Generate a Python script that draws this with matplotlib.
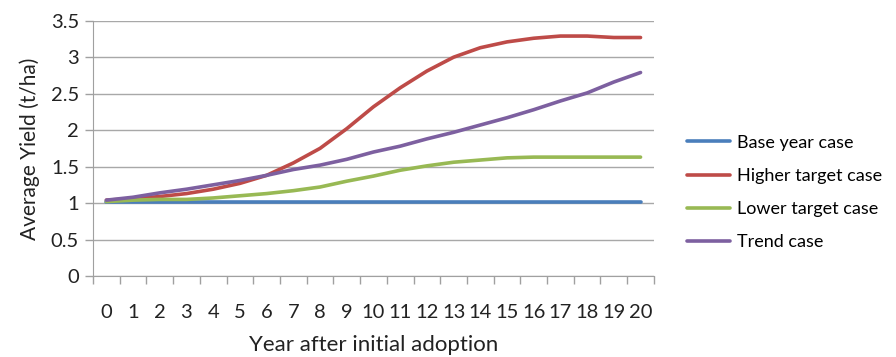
import numpy as np
import matplotlib.pyplot as plt

plt.rcParams['font.family'] = ['Lato', 'DejaVu Sans']

# years after adoption
years = list(range(21))

# yield series (t/ha)
base_case = [1.02] * 21
higher_case = [1.04, 1.06, 1.09, 1.13, 1.19, 1.27, 1.38, 1.55, 1.75, 2.02, 2.32,
               2.58, 2.81, 3.00, 3.13, 3.21, 3.26, 3.29, 3.29, 3.27, 3.27]
lower_case = [1.02, 1.04, 1.05, 1.05, 1.07, 1.10, 1.13, 1.17, 1.22, 1.30, 1.37,
              1.45, 1.51, 1.56, 1.59, 1.62, 1.63, 1.63, 1.63, 1.63, 1.63]
trend_case = [1.04, 1.08, 1.14, 1.19, 1.25, 1.31, 1.38, 1.46, 1.52, 1.60, 1.70,
              1.78, 1.88, 1.97, 2.07, 2.17, 2.28, 2.40, 2.51, 2.66, 2.79]

labels = ['Base year case', 'Higher target case', 'Lower target case', 'Trend case']
colors = ['#4A7EBB', '#BE4B48', '#98B954', '#7D60A0']

fig = plt.figure(figsize=(8.96, 3.57), dpi=100)
ax = fig.add_axes([0.1038, 0.2269, 0.626, 0.715])

for series, lab, col in zip([base_case, higher_case, lower_case, trend_case], labels, colors):
    ax.plot(years, series, color=col, lw=2.6, label=lab, solid_capstyle='round')

ax.set_xlim(-0.5, 20.5)
ax.set_ylim(0, 3.5)
ax.set_yticks(np.arange(0, 3.51, 0.5))
ax.set_yticklabels(['0', '0.5', '1', '1.5', '2', '2.5', '3', '3.5'])
ax.set_xticks(years)
ax.set_xticks(np.arange(-0.5, 20.6, 1), minor=True)
ax.tick_params(axis='x', which='major', length=0, pad=20, labelsize=14.5, colors='#222222')
ax.tick_params(axis='x', which='minor', length=6, color='#A0A0A0', width=1)
ax.tick_params(axis='y', length=6, color='#A0A0A0', width=1, labelsize=14.5, colors='#222222', pad=4)
ax.yaxis.grid(True, color='#A8A8A8', lw=1)
ax.set_axisbelow(True)
for s in ['top', 'right']:
    ax.spines[s].set_visible(False)
for s in ['left', 'bottom']:
    ax.spines[s].set_color('#A0A0A0')

ax.set_xlabel('Year after initial adoption', fontsize=16, color='#222222', labelpad=10)
ax.set_ylabel('Average Yield (t/ha)', fontsize=15, color='#222222', labelpad=8)

ax.legend(loc='center left', bbox_to_anchor=(1.03, 0.327), frameon=False, fontsize=13,
          handlelength=2.4, labelspacing=0.95, handletextpad=0.35)

fig.savefig('out.png', dpi=100)
